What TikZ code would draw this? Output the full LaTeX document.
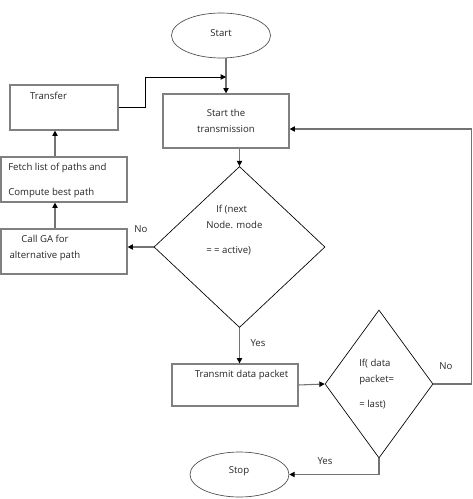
\documentclass[tikz,border=0pt]{standalone}
\usepackage{fontspec}
\setmainfont{Open Sans}
\usetikzlibrary{shapes.geometric,arrows.meta}

\begin{document}
\begin{tikzpicture}[x=0.75pt,y=0.75pt,yscale=-1,xscale=1,
        font=\fontsize{7.2}{12}\selectfont,
        box/.style={draw=black!50,line width=0.9pt,rectangle,inner sep=0pt},
        term/.style={draw=black!70,line width=0.5pt,ellipse,inner sep=0pt,minimum width=74.25pt,minimum height=33.75pt},
        decision/.style={draw=black,line width=0.5pt,diamond,inner sep=0pt},
        flow/.style={draw=black!55,line width=0.8pt,-{Triangle[length=4pt,width=4pt,color=black]}},
        txt/.style={inner sep=0pt,text=black!85}]
        \useasboundingbox (0,0) rectangle (472,499);
        %Shapes
        \node[term] (start) at (221,35.5) {};
        \node[box,minimum width=94.5pt,minimum height=40.5pt] (trans) at (226,121) {};
        \node[box,minimum width=81pt,minimum height=33.75pt] (transfer) at (64,107.5) {};
        \node[box,minimum width=94.5pt,minimum height=33.75pt] (fetch) at (64,179.5) {};
        \node[box,minimum width=94.5pt,minimum height=33.75pt] (callga) at (64,251.5) {};
        \node[decision,minimum width=128.25pt,minimum height=120.75pt] (modeq) at (239.5,247) {};
        \node[box,minimum width=94.5pt,minimum height=31.5pt] (transmit) at (235,385) {};
        \node[decision,minimum width=81pt,minimum height=111pt] (lastq) at (379,384) {};
        \node[term] (stop) at (239.5,474.5) {};
        % Text Node
        \node[txt] (startText) at (221,33) {Start};
        \node[txt,align=center] (transText) at (226,121) {Start the\\transmission};
        \node[txt] (transferText) at (48.5,96) {Transfer};
        \node[txt,align=left,anchor=west] (fetchText) at (8,180.5) {Fetch list of paths and\\[6.75pt]Compute best path};
        \node[txt,align=center] (callgaText) at (45,247.5) {Call GA for\\alternative path};
        \node[txt,align=left,anchor=north west] (modeqText) at (206,205) {\hspace{7.5pt}If (next\\Node. mode\\[6.75pt]= = active)};
        \node[txt] (transmitText) at (241.5,375) {Transmit data packet};
        \node[txt,align=left,anchor=north west] (lastqText) at (359,359) {If( data\\packet=\\[6.75pt]= last)};
        \node[txt] (stopText) at (239,471) {Stop};
        \node[txt] (noA) at (141,229) {No};
        \node[txt] (yesA) at (258,343) {Yes};
        \node[txt] (noB) at (446,366) {No};
        \node[txt] (yesB) at (325,461) {Yes};
        %Connectors
        \coordinate (join) at (trans.north |- 0,77);
        \draw[flow] (trans.north |- start.south) -- (trans.north);
        \draw[flow,draw=black,line width=0.5pt] (transfer.east) -- ++(27,0) |- (join);
        \draw[flow] (modeq.north |- trans.south) -- (modeq.north);
        \draw[flow] (modeq.west) -- (modeq.west -| callga.east);
        \draw[flow] ([xshift=-6.75pt]callga.north) -- ([xshift=-6.75pt]fetch.south);
        \draw[flow] ([xshift=-6.75pt]fetch.north) -- ([xshift=-6.75pt]transfer.south);
        \draw[flow] (modeq.south) -- (modeq.south |- transmit.north);
        \draw[flow] (transmit.east) -- (lastq.west);
        \draw[flow] (lastq.east) -- ++(38,0) |- ([yshift=6pt]trans.east);
        \draw[flow] (lastq.south) |- (stop.east);
\end{tikzpicture}
\end{document}
